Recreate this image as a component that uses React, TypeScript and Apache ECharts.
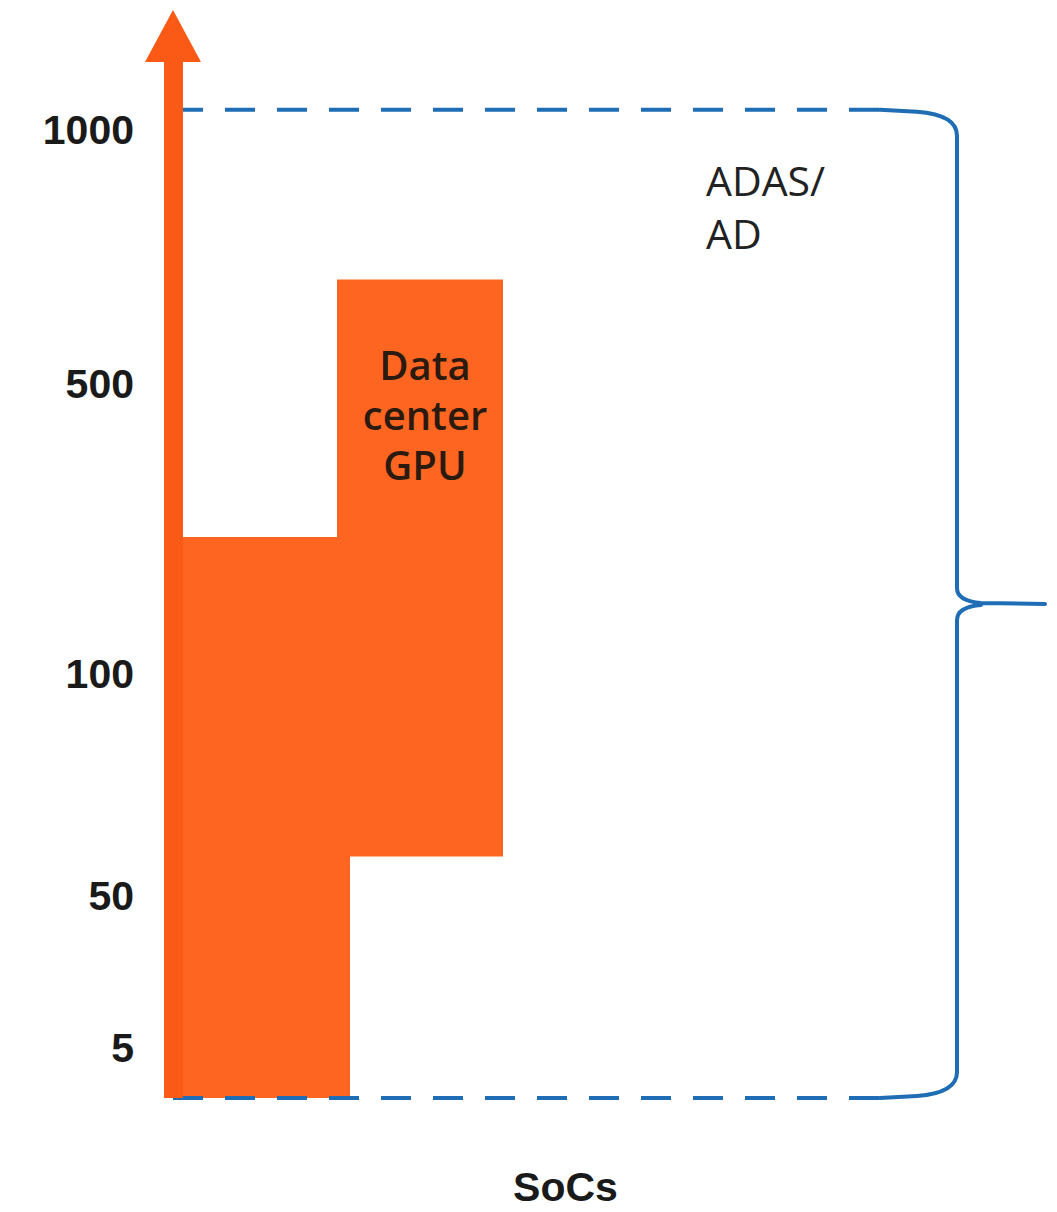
import React, { useEffect, useRef } from 'react';
import * as echarts from 'echarts';

// Schematic (non-linear) vertical scale: axis units -> tick labels
const yTickValues = [50, 202, 425, 715, 970];
const yTickLabels = ['5', '50', '100', '500', '1000'];

// Blocks: [xStart, xEnd, yLow, yHigh]
const barNames = ['SoCs', 'Data center GPU'];
const barLabels = ['', 'Data\ncenter\nGPU'];
const barX0 = [0, 164];
const barX1 = [177, 330];
const barLow = [0, 242];
const barHigh = [562, 820];

// ADAS/AD range (dashed bounds + brace)
const adasRange = [0, 990];
const adasX = [0, 707];
const adasLabel = 'ADAS/\nAD';

export default function App() {
  const ref = useRef<HTMLDivElement>(null);
  useEffect(() => {
    document.body.style.margin = '0';
    const chart = echarts.init(ref.current!, null, { renderer: 'svg' });
    const ORANGE = '#fd6521';
    const BLUE = '#1f6db4';
    const option: any = {
      animation: false,
      backgroundColor: '#ffffff',
      grid: { left: 173, top: 36, width: 785, height: 1064 },
      xAxis: {
        type: 'value',
        min: 0,
        max: 785,
        axisLine: { show: false },
        axisTick: { show: false },
        axisLabel: { show: false },
        splitLine: { show: false },
        name: 'SoCs',
        nameLocation: 'middle',
        nameGap: 68,
        nameTextStyle: {
          fontSize: 41,
          fontWeight: 'bold',
          fontFamily: 'Liberation Sans',
          color: '#1a1a1a',
        },
      },
      yAxis: {
        type: 'value',
        min: 0,
        max: 1064,
        z: 10,
        axisLine: {
          show: true,
          onZero: false,
          symbol: ['none', 'path://M0,0 L28,52 L-28,52 Z'],
          symbolSize: [56, 52],
          lineStyle: { color: '#fa5a16', width: 19, cap: 'butt' },
        },
        axisTick: { show: false },
        splitLine: { show: false },
        axisLabel: {
          customValues: yTickValues,
          formatter: (v: number) => {
            const i = yTickValues.indexOf(v);
            return i >= 0 ? yTickLabels[i] : '';
          },
          margin: 39,
          fontSize: 41,
          fontWeight: 'bold',
          fontFamily: 'Liberation Sans',
          color: '#1a1a1a',
        },
      },
      series: [
        {
          type: 'custom',
          name: 'blocks',
          z: 2,
          encode: { x: [0, 1], y: [2, 3] },
          data: barNames.map((n, i) => [barX0[i], barX1[i], barLow[i], barHigh[i], i]),
          renderItem: (params: any, api: any) => {
            const i = api.value(4);
            const p0 = api.coord([api.value(0), api.value(3)]);
            const p1 = api.coord([api.value(1), api.value(2)]);
            const children: any[] = [
              {
                type: 'rect',
                shape: { x: p0[0], y: p0[1], width: p1[0] - p0[0], height: p1[1] - p0[1] },
                style: { fill: ORANGE },
              },
            ];
            if (barLabels[i]) {
              children.push({
                type: 'text',
                style: {
                  text: barLabels[i],
                  x: (p0[0] + p1[0]) / 2 + 5,
                  y: p0[1] + 60,
                  fill: '#2b1a10',
                  fontSize: 40,
                  lineHeight: 50,
                  fontFamily: 'Open Sans',
                  fontWeight: 600,
                  align: 'center',
                  verticalAlign: 'top',
                },
              });
            }
            return { type: 'group', children };
          },
        },
        {
          type: 'line',
          name: 'adasTop',
          z: 5,
          clip: false,
          symbol: 'none',
          silent: true,
          data: [
            [adasX[0], adasRange[1]],
            [adasX[1], adasRange[1]],
          ],
          lineStyle: { color: BLUE, width: 4, type: [30, 22] },
        },
        {
          type: 'line',
          name: 'adasBottom',
          z: 5,
          clip: false,
          symbol: 'none',
          silent: true,
          data: [
            [adasX[0], adasRange[0]],
            [adasX[1], adasRange[0]],
          ],
          lineStyle: { color: BLUE, width: 4, type: [30, 22] },
        },
        {
          type: 'custom',
          name: 'brace',
          z: 5,
          clip: false,
          encode: { x: 0, y: [1, 2] },
          data: [[adasX[1], adasRange[0], adasRange[1]]],
          renderItem: (params: any, api: any) => {
            const pt = api.coord([api.value(0), api.value(2)]);
            const pb = api.coord([api.value(0), api.value(1)]);
            const X0 = pt[0];
            const T = pt[1];
            const B = pb[1];
            const M = (T + B) / 2;
            const XV = X0 + 77;
            const XT = XV + 88;
            const d =
              `M${X0},${T} L${XV - 40},${T + 2} Q${XV},${T + 5} ${XV},${T + 26} ` +
              `L${XV},${M - 16} Q${XV},${M - 3} ${XV + 24},${M - 1} L${XT},${M} ` +
              `M${XV + 24},${M + 1} Q${XV},${M + 3} ${XV},${M + 16} ` +
              `L${XV},${B - 26} Q${XV},${B - 5} ${XV - 40},${B - 2} L${X0},${B}`;
            return {
              type: 'path',
              shape: { pathData: d },
              style: { stroke: BLUE, lineWidth: 4, fill: 'none', lineJoin: 'round', lineCap: 'round' },
            };
          },
        },
      ],
      graphic: [
        {
          type: 'text',
          left: 706,
          top: 153,
          style: {
            text: adasLabel,
            fontSize: 41,
            lineHeight: 53,
            fontFamily: 'Open Sans',
            fill: '#222222',
          },
        },
      ],
    };
    chart.setOption(option);
    return () => chart.dispose();
  }, []);
  return <div ref={ref} style={{ width: 1057, height: 1212 }} />;
}
